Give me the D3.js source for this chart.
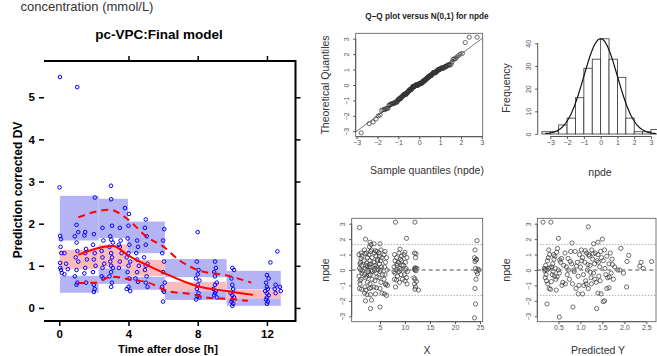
<!DOCTYPE html>
<html>
<head>
<meta charset="utf-8">
<script src="https://cdn.jsdelivr.net/npm/d3@7"></script>
<style>
  body { margin: 0; background: #fff; }
  svg { display: block; font-family: "Liberation Sans", Arial, sans-serif; }
</style>
</head>
<body>
<svg id="chart" width="657" height="356"></svg>
<script>
// ---------- pc-VPC data ----------
const vpcBinEdges = [0.04, 2.28, 3.97, 6.1, 9.67, 12.8];
const vpcLowPI = [[0.36, 0.76], [0.57, 0.94], [0.43, 0.74], [0.19, 0.40], [0.05, 0.23]];
const vpcMedPI = [[0.92, 1.38], [0.96, 1.50], [0.76, 1.14], [0.40, 0.62], [0.23, 0.43]];
const vpcHighPI = [[1.60, 2.66], [1.66, 2.59], [1.30, 2.05], [0.73, 1.16], [0.44, 0.88]];

const obsMedian = [[1.1, 1.26], [3.1, 1.47], [4.0, 1.24], [6.0, 0.84], [7.94, 0.52], [9.68, 0.40], [11.2, 0.31]];
const obsP95 = [[1.1, 2.15], [2.9, 2.33], [4.0, 2.09], [5.05, 1.69], [6.0, 1.46], [6.98, 1.12], [8.0, 0.90], [9.68, 0.77], [11.1, 0.60]];
const obsP05 = [[1.1, 0.59], [2.1, 0.60], [3.0, 0.74], [4.3, 0.66], [5.0, 0.62], [6.3, 0.40], [7.6, 0.33], [8.6, 0.24], [9.9, 0.21], [10.9, 0.17]];

const vpcObs = [
  [0.04, 5.48], [1.04, 5.24],
  [0.02, 2.86], [0.05, 1.71], [0.1, 1.63], [0.08, 1.45], [0.12, 1.3], [0.05, 1.07], [0.1, 0.9], [0.15, 0.83], [0.06, 0.95], [0.3, 1.3], [0.4, 1.05], [0.5, 0.92], [0.3, 0.8],
  [1.0, 1.97], [1.1, 1.8], [0.9, 1.7], [1.0, 1.55], [1.05, 1.35], [0.95, 1.2], [1.1, 1.1], [1.0, 0.9], [0.9, 0.75], [1.05, 0.6], [1.0, 0.55],
  [1.5, 1.8], [1.45, 1.72], [1.55, 1.4], [1.5, 1.3], [1.6, 1.15], [1.5, 0.95], [1.45, 0.82], [1.55, 0.6],
  [2.06, 2.62], [2.0, 1.75], [1.95, 1.5], [2.05, 1.3], [2.0, 1.15], [2.1, 1.0], [1.95, 0.85], [2.0, 0.55], [2.05, 0.45], [2.0, 0.38],
  [2.5, 1.9], [2.55, 1.6], [2.45, 1.35], [2.5, 1.2], [2.6, 1.05], [2.5, 0.95], [2.45, 0.75], [2.55, 0.7],
  [2.99, 2.9], [3.0, 2.58], [3.05, 1.95], [2.95, 1.7], [3.0, 1.62], [3.1, 1.55], [2.9, 1.45], [3.0, 1.3], [3.05, 1.2], [2.95, 1.1], [3.0, 1.0], [3.1, 0.95], [3.0, 0.85], [2.9, 0.75], [3.05, 0.6], [3.0, 0.5],
  [3.5, 1.9], [3.55, 1.6], [3.45, 1.5], [3.5, 1.45], [3.6, 1.3], [3.5, 1.1], [3.45, 0.95],
  [3.8, 2.37], [4.03, 2.23], [4.0, 1.95], [3.95, 1.65], [4.05, 1.5], [4.0, 1.3], [3.9, 1.2], [4.1, 1.1], [4.0, 1.0], [3.95, 0.85], [4.05, 0.7], [4.0, 0.5], [3.9, 0.45], [4.1, 0.4],
  [4.5, 1.6], [4.55, 1.45], [4.45, 1.3], [4.5, 1.15], [4.6, 1.0], [4.5, 0.85], [4.4, 0.7], [4.55, 0.62],
  [5.0, 2.1], [4.95, 1.9], [5.05, 1.7], [5.0, 1.5], [4.9, 1.2], [5.1, 1.05], [5.0, 1.0], [4.95, 0.9], [5.05, 0.75], [5.0, 0.6], [5.1, 0.5],
  [6.07, 1.87], [6.0, 1.6], [5.95, 1.3], [6.05, 1.1], [6.0, 0.85], [6.1, 0.6], [5.95, 0.5], [6.0, 0.42], [6.05, 0.38], [6.0, 0.15],
  [8.0, 1.8], [7.95, 1.1], [8.05, 0.9], [8.0, 0.8], [7.9, 0.7], [8.1, 0.65], [8.0, 0.55], [7.95, 0.45], [8.05, 0.35], [8.0, 0.28], [8.1, 0.25], [7.9, 0.2],
  [9.0, 1.1], [9.05, 0.95], [8.95, 0.85], [9.0, 0.75], [9.1, 0.6], [9.0, 0.55], [8.9, 0.45], [9.05, 0.4], [9.0, 0.35], [8.95, 0.3], [9.1, 0.25],
  [10.0, 0.95], [10.1, 0.9], [9.95, 0.7], [10.0, 0.55], [10.05, 0.45], [9.9, 0.35], [10.0, 0.3], [10.1, 0.25], [10.0, 0.2], [9.95, 0.15], [10.05, 0.1], [10.0, 0.05],
  [12.0, 0.78], [12.1, 0.7], [11.95, 0.6], [12.0, 0.5], [12.05, 0.45], [11.9, 0.4], [12.0, 0.35], [12.1, 0.3], [12.0, 0.25], [11.95, 0.2], [12.05, 0.15], [12.0, 0.1],
  [12.2, 1.08], [12.5, 0.55], [12.45, 0.45], [12.5, 0.35], [12.6, 1.34], [12.8, 0.4], [12.75, 0.5]
];

// ---------- npde data ----------
const npdeVsX = [
  [0.9, 2.75], [1.2, 1.1], [0.8, 1.0], [1.4, 0.9], [1.0, 0.4], [1.3, 0.3], [0.9, 0.1], [1.1, 0.0], [1.4, -0.2], [0.8, -0.4], [1.2, -0.6], [1.0, -0.7], [0.9, -1.2], [1.3, -1.25], [1.5, -0.05], [1.1, 0.5], [1.2, 0.75], [1.0, -0.9],
  [2.1, 2.0], [1.9, 1.3], [2.3, 1.1], [2.0, 1.05], [2.5, 0.8], [1.8, 0.6], [2.2, 0.3], [2.4, 0.2], [2.0, 0.1], [2.6, -0.1], [1.9, -0.3], [2.3, -0.4], [2.1, -0.5], [2.5, -0.8], [2.0, -1.1], [2.2, -1.3], [1.9, -1.5], [2.4, -1.6], [2.1, -2.0], [2.6, 0.0], [2.3, 0.45],
  [3.0, 1.8], [3.2, 1.65], [2.9, 1.5], [3.3, 1.3], [3.1, 1.2], [2.8, 1.0], [3.4, 0.8], [3.0, 0.6], [3.2, 0.4], [2.9, 0.35], [3.3, 0.0], [3.1, -0.3], [2.8, -0.35], [3.4, -0.6], [3.0, -0.9], [3.2, -1.15], [2.9, -1.2], [3.1, -1.6], [3.3, -1.95], [3.1, -2.5], [3.0, 0.2], [3.4, -0.1],
  [3.8, 1.7], [4.1, 1.25], [4.4, 1.2], [3.9, 1.1], [4.2, 0.9], [4.5, 0.7], [3.8, 0.5], [4.0, 0.3], [4.3, 0.2], [4.6, 0.05], [3.9, -0.05], [4.2, -0.2], [4.4, -0.45], [4.0, -0.7], [3.8, -1.1], [4.3, -1.15], [4.1, -1.55], [4.5, 0.6], [4.0, 0.1],
  [5.0, 1.7], [5.2, 1.3], [4.8, 1.1], [5.4, 0.8], [5.1, 0.6], [4.9, 0.4], [5.3, 0.2], [5.0, -0.1], [5.5, -0.3], [4.8, -0.5], [5.2, -0.8], [5.0, -1.2], [5.4, -1.5], [5.0, -2.4], [5.1, 0.0], [4.9, 0.9],
  [6.0, 1.2], [5.8, 1.0], [6.3, 0.8], [6.1, 0.5], [5.9, 0.2], [6.4, 0.0], [6.0, -0.3], [5.8, -0.6], [6.2, -0.9], [6.5, -1.0], [5.9, -1.55], [6.3, -1.65], [6.1, -0.95],
  [8.1, 3.1], [7.9, 1.0], [8.3, 0.8], [8.0, 0.6], [8.4, 0.4], [7.8, 0.2], [8.2, 0.0], [8.0, -0.2], [8.5, -0.4], [7.9, -0.6], [8.3, -0.65], [8.1, -1.1], [8.4, 0.3], [7.8, -0.1],
  [9.0, 1.35], [8.8, 1.1], [9.3, 0.9], [9.1, 0.7], [8.7, 0.5], [9.4, 0.3], [9.0, 0.1], [8.8, -0.1], [9.2, -0.3], [9.5, -0.6], [8.9, -0.8], [9.3, 0.6], [9.1, 0.0],
  [10.3, 2.05], [10.0, 1.15], [9.8, 1.0], [10.4, 0.8], [10.1, 0.5], [9.7, 0.3], [10.2, 0.1], [10.5, -0.1], [9.9, -0.3], [10.3, -0.5], [10.0, -0.7], [10.4, -0.9], [10.1, 0.0],
  [12.0, 3.1], [11.9, 1.1], [12.2, 1.05], [12.1, 0.8], [12.0, 0.15], [12.1, 0.1], [11.9, 0.05], [12.0, 0.0], [12.2, -0.05], [11.8, -0.5], [12.0, -0.6], [12.3, -0.75], [11.9, -0.9], [12.1, -1.1], [12.0, -1.25], [12.7, -1.3], [12.4, 0.1],
  [24.4, 1.9], [24.0, 1.3], [23.9, 0.8], [24.3, 0.7], [24.2, 0.65], [24.0, 0.55], [24.1, 0.1], [24.6, 0.05], [24.8, 0.0], [24.3, -0.1], [24.5, -0.25], [24.2, -0.6], [24.0, -1.2], [24.1, -2.2], [23.9, -3.1]
];

const npdeVsPred = [
  [0.15, 3.1], [0.33, 3.1], [1.18, 2.8], [0.5, 2.05], [0.81, 1.75], [1.5, 2.0], [1.4, 1.8], [1.3, 1.7], [1.92, 1.4], [2.1, 0.95], [2.06, 0.55], [2.38, 0.5], [2.62, 0.55], [2.43, 0.1], [2.35, 0.25],
  [1.98, -0.2], [1.9, 0.0], [1.85, 0.0], [2.05, -1.1], [1.6, -1.2], [1.65, -1.15], [1.4, -1.5], [1.47, -1.55], [1.55, -2.0], [1.52, -2.05], [1.37, -2.5], [0.83, -2.4], [0.52, -3.05], [0.24, -2.2], [0.95, -1.55], [1.05, -1.55],
  [0.18, 0.1], [0.2, 0.05], [0.22, -0.3], [0.25, 0.6], [0.27, 0.8], [0.28, 1.3], [0.3, 1.0], [0.2, -0.5], [0.23, -0.7], [0.26, -0.9], [0.29, -1.2], [0.32, -1.25], [0.35, 0.2], [0.37, 0.4], [0.4, 0.7], [0.42, 0.9], [0.38, -0.1], [0.41, -0.4], [0.44, -0.6], [0.46, 1.15],
  [0.48, 1.4], [0.5, 0.0], [0.52, -0.2], [0.55, 0.5], [0.57, 0.75], [0.6, -0.8], [0.58, -1.0], [0.62, 0.3], [0.45, -1.3], [0.34, -0.75], [0.31, 0.15], [0.27, 0.1], [0.24, 0.0], [0.21, 0.3], [0.19, -0.05], [0.36, -0.3], [0.39, 1.0], [0.43, 0.1], [0.47, -0.45], [0.53, 0.65],
  [0.65, 1.1], [0.68, 0.2], [0.7, -0.3], [0.72, 0.75], [0.75, -0.6], [0.78, 1.2], [0.8, 0.4], [0.82, -0.9], [0.85, 0.0], [0.88, 1.2], [0.9, -1.2], [0.93, 0.5], [0.95, -0.4], [0.98, 1.0], [0.66, -0.9], [0.73, 0.0], [0.77, 0.55], [0.86, -0.1], [0.91, 0.25], [0.97, -1.0],
  [1.0, 0.2], [1.02, 1.3], [1.05, 0.8], [1.07, -0.3], [1.1, 0.5], [1.12, -0.7], [1.14, 1.1], [1.16, 0.0], [1.18, -1.2], [1.2, 0.9], [1.22, 0.3], [1.24, -0.5], [1.26, 1.3], [1.28, 0.7], [1.3, -0.2], [1.32, 0.4], [1.34, 1.1], [1.36, -0.8],
  [1.38, 0.6], [1.4, 1.0], [1.42, -0.4], [1.44, 0.2], [1.46, 1.2], [1.48, 0.8], [1.08, -1.0], [1.13, -0.9], [1.19, 1.0], [1.25, -0.9], [1.33, -0.6], [1.41, 0.5], [1.45, -0.7], [1.03, 0.6], [1.17, 0.35], [1.29, 1.05], [1.11, 1.25], [1.23, -0.15],
  [1.52, 0.6], [1.55, 1.3], [1.58, -0.3], [1.6, 0.9], [1.62, -0.5], [1.65, 0.4], [1.68, 1.1], [1.7, -0.2], [1.72, 0.7], [1.75, -0.6], [1.78, 0.2], [1.56, 0.1], [1.66, -0.45], [1.73, 0.35]
];

const histBreaks = [-3.5, -3, -2.5, -2, -1.5, -1, -0.5, 0, 0.5, 1, 1.5, 2, 2.5, 3, 3.5];
const histCounts = [1, 1, 4, 7, 16, 29, 33, 42, 33, 25, 7, 1, 1, 2];

// inverse standard normal (Acklam) for the theoretical quantiles
function qnorm(p) {
  const a = [-39.69683028665376, 220.9460984245205, -275.9285104469687, 138.3577518672690, -30.66479806614716, 2.506628277459239];
  const b = [-54.47609879822406, 161.5858368580409, -155.6989798598866, 66.80131188771972, -13.28068155288572];
  const c = [-0.007784894002430293, -0.3223964580411365, -2.400758277161838, -2.549732539343734, 4.374664141464968, 2.938163982698783];
  const d = [0.007784695709041462, 0.3224671290700398, 2.445134137142996, 3.754408661907416];
  const tail = (q) => (((((c[0] * q + c[1]) * q + c[2]) * q + c[3]) * q + c[4]) * q + c[5]) / ((((d[0] * q + d[1]) * q + d[2]) * q + d[3]) * q + 1);
  if (p < 0.02425) return tail(Math.sqrt(-2 * Math.log(p)));
  if (p > 1 - 0.02425) return -tail(Math.sqrt(-2 * Math.log(1 - p)));
  const q = p - 0.5, r = q * q;
  return (((((a[0] * r + a[1]) * r + a[2]) * r + a[3]) * r + a[4]) * r + a[5]) * q / (((((b[0] * r + b[1]) * r + b[2]) * r + b[3]) * r + b[4]) * r + 1);
}

const svg = d3.select('#chart');

// ================= pc-VPC panel =================
const vx = d3.scaleLinear().domain([-0.88, 13.65]).range([44, 295.5]);
const vy = d3.scaleLinear().domain([-0.31, 5.86]).range([321, 61]);

[[vpcLowPI, '#b4b4f5'], [vpcHighPI, '#b4b4f5'], [vpcMedPI, '#fdbcbc']].forEach(([band, colour]) => {
  svg.append('g')
    .selectAll('rect')
    .data(band)
    .join('rect')
    .attr('x', (d, i) => vx(vpcBinEdges[i]))
    .attr('width', (d, i) => vx(vpcBinEdges[i + 1]) - vx(vpcBinEdges[i]))
    .attr('y', (d) => vy(d[1]))
    .attr('height', (d) => vy(d[0]) - vy(d[1]))
    .attr('fill', colour);
});

svg.append('g')
  .attr('fill', 'none')
  .attr('stroke', '#0000ff')
  .attr('stroke-width', 1)
  .selectAll('circle')
  .data(vpcObs)
  .join('circle')
  .attr('cx', (d) => vx(d[0]))
  .attr('cy', (d) => vy(d[1]))
  .attr('r', 1.8);

const vline = d3.line().x((d) => vx(d[0])).y((d) => vy(d[1])).curve(d3.curveMonotoneX);
svg.append('path').attr('d', vline(obsMedian)).attr('fill', 'none').attr('stroke', '#ff0000').attr('stroke-width', 2);
[obsP05, obsP95].forEach((s) => {
  svg.append('path').attr('d', vline(s)).attr('fill', 'none').attr('stroke', '#ff0000')
    .attr('stroke-width', 2).attr('stroke-dasharray', '7,5');
});

// frame: top, right, bottom
svg.append('path')
  .attr('d', `M${vx.range()[0]},${vy.range()[1]}H${vx.range()[1]}V${vy.range()[0]}H${vx.range()[0]}`)
  .attr('fill', 'none').attr('stroke', '#000').attr('stroke-width', 2);

const styleVpcAxis = (g) => {
  g.select('.domain').remove();
  g.selectAll('line').attr('stroke', '#000').attr('stroke-width', 1.5);
  g.selectAll('text').attr('font-size', 11.5).attr('font-weight', 'bold').attr('fill', '#000')
    .attr('font-family', '"Liberation Sans", Arial, sans-serif');
};
svg.append('g').attr('transform', `translate(44,0)`)
  .call(d3.axisLeft(vy).tickValues([0, 1, 2, 3, 4, 5]).tickSize(5).tickPadding(4).tickFormat(d3.format('d'))).call(styleVpcAxis);
svg.append('g').attr('transform', `translate(295.5,0)`)
  .call(d3.axisRight(vy).tickValues([0, 1, 2, 3, 4, 5]).tickSize(5).tickFormat('')).call(styleVpcAxis);
svg.append('g').attr('transform', `translate(0,321)`)
  .call(d3.axisBottom(vx).tickValues([0, 4, 8, 12]).tickSize(5).tickPadding(4).tickFormat(d3.format('d'))).call(styleVpcAxis);
svg.append('g').attr('transform', `translate(0,61)`)
  .call(d3.axisTop(vx).tickValues([4, 8, 12]).tickSize(5).tickFormat('')).call(styleVpcAxis);

svg.append('text').attr('x', 20.5).attr('y', 11).attr('font-size', 13).attr('fill', '#333')
  .text('concentration (mmol/L)');
svg.append('text').attr('x', 159).attr('y', 39).attr('text-anchor', 'middle')
  .attr('font-size', 13.5).attr('font-weight', 'bold').text('pc-VPC:Final model');
svg.append('text').attr('transform', 'translate(22,190) rotate(-90)').attr('text-anchor', 'middle')
  .attr('font-size', 12).attr('font-weight', 'bold').text('Prediction corrected DV');
svg.append('text').attr('x', 168).attr('y', 352.5).attr('text-anchor', 'middle')
  .attr('font-size', 11.2).attr('font-weight', 'bold').text('Time after dose [h]');

// ================= small R-style panels =================
const AX = '#555';
const minus = (v) => String(v).replace('-', '\u2212');
function rAxes(g, sx, sy, xt, yt, xy, yx, xfmt) {
  const ax = g.append('g').attr('transform', `translate(0,${xy})`)
    .call(d3.axisBottom(sx).tickValues(xt).tickSize(2.5).tickPadding(1).tickFormat(xfmt || minus));
  ax.select('.domain').attr('d', `M${sx(xt[0])},0H${sx(xt[xt.length - 1])}`).attr('stroke', AX);
  ax.selectAll('line').attr('stroke', AX);
  ax.selectAll('text').attr('font-size', 7).attr('fill', AX);
  const ay = g.append('g').attr('transform', `translate(${yx},0)`)
    .call(d3.axisLeft(sy).tickValues(yt).tickSize(2.5).tickPadding(1).tickFormat(minus));
  ay.select('.domain').attr('d', `M0,${sy(yt[0])}V${sy(yt[yt.length - 1])}`).attr('stroke', AX);
  ay.selectAll('line').attr('stroke', AX);
  ay.selectAll('text').attr('font-size', 7).attr('fill', AX)
    .attr('text-anchor', 'middle').attr('dy', 0).attr('x', 0).attr('y', 0)
    .attr('transform', 'translate(-6.5,0) rotate(-90)');
}
function rBox(sx, sy) {
  svg.append('rect').attr('x', sx.range()[0]).attr('y', sy.range()[1])
    .attr('width', sx.range()[1] - sx.range()[0]).attr('height', sy.range()[0] - sy.range()[1])
    .attr('fill', 'none').attr('stroke', AX).attr('stroke-width', 0.8);
}
function rLabels(cx, cy, xl, yx, xlabel, ylabel) {
  svg.append('text').attr('x', cx).attr('y', xl).attr('text-anchor', 'middle')
    .attr('font-size', 10.5).attr('fill', '#333').text(xlabel);
  svg.append('text').attr('transform', `translate(${yx},${cy}) rotate(-90)`).attr('text-anchor', 'middle')
    .attr('font-size', 10.5).attr('fill', '#333').text(ylabel);
}
const npdeTicks = [-3, -2, -1, 0, 1, 2, 3];

// ---- Q-Q plot ----
const qx = d3.scaleLinear().domain([-3.04, 3.04]).range([355.7, 482.7]);
const qy = d3.scaleLinear().domain([-3.35, 3.35]).range([136.7, 33.3]);
const sortedNpde = npdeVsX.map((d) => d[1]).sort(d3.ascending);
const qqPts = sortedNpde.map((v, i) => [qnorm((i + 0.5) / sortedNpde.length), v]);
const gq = svg.append('g');
gq.append('line').attr('x1', qx(-3.04)).attr('y1', qy(-3.04)).attr('x2', qx(3.04)).attr('y2', qy(3.04))
  .attr('stroke', '#555').attr('stroke-width', 0.8);
gq.append('g').attr('fill', 'none').attr('stroke', '#333').attr('stroke-width', 0.7)
  .selectAll('circle').data(qqPts).join('circle')
  .attr('cx', (d) => qx(d[0])).attr('cy', (d) => qy(d[1])).attr('r', 2.1);
rBox(qx, qy);
rAxes(gq, qx, qy, npdeTicks, npdeTicks, 136.7, 355.7);
svg.append('text').attr('x', 427).attr('y', 19).attr('text-anchor', 'middle')
  .attr('font-size', 8.2).attr('font-weight', 'bold').attr('fill', '#222').text('Q\u2013Q plot versus N(0,1) for npde');
rLabels(427, 85, 174, 329, 'Sample quantiles (npde)', 'Theoretical Quantiles');

// ---- histogram ----
const hx = d3.scaleLinear().domain([-3, 3]).range([550.3, 651]);
const hy = d3.scaleLinear().domain([0, 40]).range([134, 43.3]);
const gh = svg.append('g');
gh.append('g').selectAll('rect').data(histCounts).join('rect')
  .attr('x', (d, i) => hx(histBreaks[i]))
  .attr('width', (d, i) => hx(histBreaks[i + 1]) - hx(histBreaks[i]))
  .attr('y', (d) => hy(d)).attr('height', (d) => hy(0) - hy(d))
  .attr('fill', '#fff').attr('stroke', '#333').attr('stroke-width', 0.8);
const peak = d3.max(histCounts);
const curveX = d3.range(-3.3, 3.31, 0.05);
gh.append('path')
  .attr('d', d3.line().x((v) => hx(v)).y((v) => hy(peak * Math.exp(-v * v / 2)))(curveX))
  .attr('fill', 'none').attr('stroke', '#111').attr('stroke-width', 1.2);
rAxes(gh, hx, hy, [-3, -2, -1, 0, 1, 2, 3], [0, 10, 20, 30, 40], 136.5, 537.7);
rLabels(600, 88, 176, 510, 'npde', 'Frequency');

// ---- npde vs X ----
const nx = d3.scaleLinear().domain([-0.66, 25.54]).range([351.7, 482.7]);
const ny = d3.scaleLinear().domain([-3.35, 3.35]).range([321.7, 218.3]);
function refLines(sx, sy) {
  svg.append('line').attr('x1', sx.range()[0]).attr('x2', sx.range()[1]).attr('y1', sy(0)).attr('y2', sy(0))
    .attr('stroke', '#888').attr('stroke-width', 1.5).attr('stroke-dasharray', '4,3');
  [-1.645, 1.645].forEach((v) => {
    svg.append('line').attr('x1', sx.range()[0]).attr('x2', sx.range()[1]).attr('y1', sy(v)).attr('y2', sy(v))
      .attr('stroke', '#888').attr('stroke-width', 1).attr('stroke-dasharray', '1,2');
  });
}
const gx = svg.append('g');
refLines(nx, ny);
gx.append('g').attr('fill', 'none').attr('stroke', '#333').attr('stroke-width', 0.7)
  .selectAll('circle').data(npdeVsX).join('circle')
  .attr('cx', (d) => nx(d[0])).attr('cy', (d) => ny(d[1])).attr('r', 2.1);
rBox(nx, ny);
rAxes(gx, nx, ny, [5, 10, 15, 20, 25], npdeTicks, 321.7, 351.7);
rLabels(427, 270, 354, 329, 'X', 'npde');

// ---- npde vs predicted ----
const px = d3.scaleLinear().domain([0.02, 2.72]).range([537.3, 656]);
const py = ny;
const gp = svg.append('g');
refLines(px, py);
gp.append('g').attr('fill', 'none').attr('stroke', '#333').attr('stroke-width', 0.7)
  .selectAll('circle').data(npdeVsPred).join('circle')
  .attr('cx', (d) => px(d[0])).attr('cy', (d) => py(d[1])).attr('r', 2.1);
rBox(px, py);
rAxes(gp, px, py, [0.5, 1.0, 1.5, 2.0, 2.5], npdeTicks, 321.7, 537.3, d3.format('.1f'));
rLabels(598, 270, 354, 510, 'Predicted Y', 'npde');
</script>
</body>
</html>
